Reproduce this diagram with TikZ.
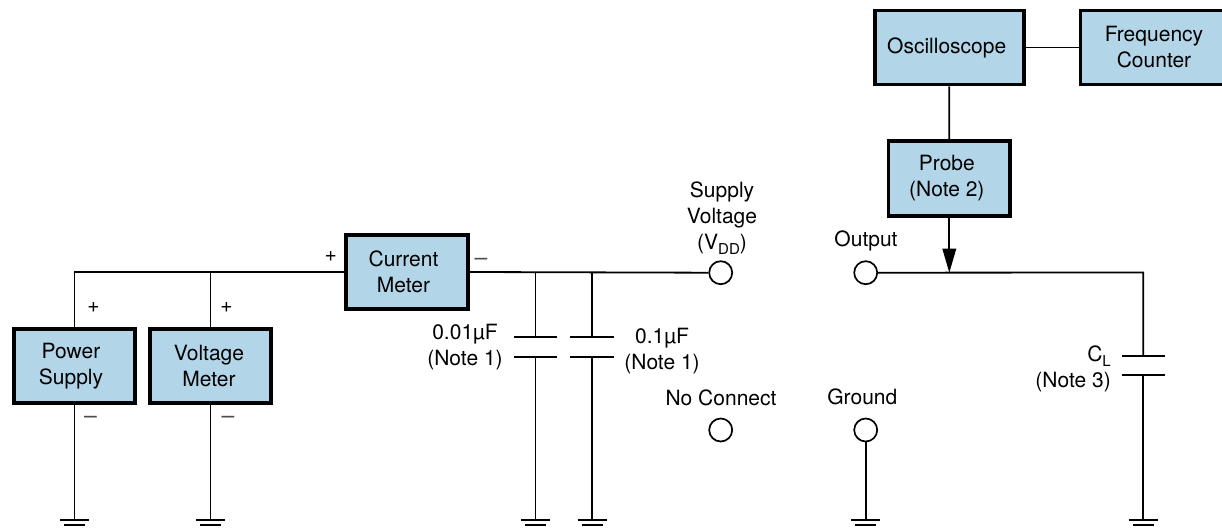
\documentclass[tikz,border=0pt]{standalone}
\usepackage{fontspec}
\setmainfont{TeX Gyre Heros}
\usetikzlibrary{arrows.meta}
\definecolor{boxblue}{HTML}{B2D5E8}
\newcommand{\ddsub}[1]{\raisebox{-0.22em}{\fontsize{15}{15}\selectfont #1}}
\newcommand{\lft}[2]{\hspace*{-#1pt}#2}
\tikzset{
  x=1pt,y=-1pt,
  wire/.style={line width=1.8pt,black},
  blockbox/.style={draw=black,fill=boxblue,line width=3.8pt,inner sep=0pt,align=center,font=\fontsize{21}{26}\selectfont},
  term/.style={circle,draw=black,fill=white,line width=1.7pt,minimum size=23pt,inner sep=0pt},
  lbl/.style={inner sep=0pt,align=center,font=\fontsize{21}{26}\selectfont},
  sign/.style={inner sep=0pt,font=\fontsize{21}{21}\selectfont},
  minus/.style={inner sep=0pt,font=\fontsize{23}{23}\selectfont,text=black!70},
  gndpic/.pic={
    \draw[line width=1.8pt] (-14.5,0) -- (14.5,0);
    \draw[line width=1.8pt] (-10.5,4.8) -- (10.5,4.8);
    \draw[line width=1.8pt] (-5,9.5) -- (5,9.5);
  },
  plate/.style={line width=1.8pt}
}
\begin{document}
\begin{tikzpicture}
\useasboundingbox (0,0) rectangle (1222,529);
% blocks
\node[blockbox,minimum width=121pt,minimum height=74pt] (ps) at (74.5,366) {\lft{7}{Power}\\\lft{7}{Supply}};
\node[blockbox,minimum width=121pt,minimum height=74pt] (vm) at (210.5,366) {\lft{3}{Voltage}\\\lft{3}{Meter}};
\node[blockbox,minimum width=122pt,minimum height=74pt] (cm) at (407,272) {\lft{7}{Current}\\\lft{7}{Meter}};
\node[blockbox,minimum width=149pt,minimum height=74pt] (osc) at (949.2,47.5) {\lft{5}{Oscilloscope}};
\node[blockbox,minimum width=147pt,minimum height=74pt] (fc) at (1154,47.5) {Frequency\\Counter};
\node[blockbox,minimum width=121.5pt,minimum height=74.5pt] (pr) at (949.3,178.5) {\lft{5}{Probe}\\\lft{5}{(Note 2)}};
% terminals
\node[term] (vdd) at (720.7,272.7) {};
\node[term] (nc) at (720.7,430) {};
\node[term] (out) at (865.7,272.7) {};
\node[term] (g) at (865.7,430) {};
% junctions and caps
\coordinate (top1) at (ps.north |- cm.west);
\coordinate (top2) at (vm.north |- cm.west);
\coordinate (j1) at (535.5,272.5);
\coordinate (j2) at (592,272.5);
\coordinate (c1a) at (535.5,337.3);
\coordinate (c1b) at (535.5,356.7);
\coordinate (c2a) at (592,337.3);
\coordinate (c2b) at (592,356.7);
\coordinate (tap) at (pr.south |- out.east);
\coordinate (corner) at (1143.3,272.5);
\coordinate (c3a) at (1143.3,356);
\coordinate (c3b) at (1143.3,375);
\coordinate (g1) at (74.5,520);
\coordinate (g2) at (210.5,520);
\coordinate (g3) at (535.5,520);
\coordinate (g4) at (592,520);
\coordinate (g5) at (865.7,520);
\coordinate (g6) at (1143.3,520);
% wires
\draw[wire] (ps.north) -- (top1) -- (cm.west);
\draw[wire] (vm.north) -- (top2);
\draw[wire] (ps.south) -- (g1);
\draw[wire] (vm.south) -- (g2);
\draw[wire] (cm.east) -- (vdd.west);
\draw[wire] (j1) -- (c1a);
\draw[wire] (j2) -- (c2a);
\draw[wire] (c1b) -- (g3);
\draw[wire] (c2b) -- (g4);
\draw[wire] (g.south) -- (g5);
\draw[wire] (out.east) -- (corner) -- (c3a);
\draw[wire] (c3b) -- (g6);
\draw[wire] (osc.east) -- (fc.west);
\draw[wire] (osc.south) -- (pr.north);
\draw[wire,-{Triangle[length=24pt,width=13.5pt,fill=black]}] (pr.south) -- (tap);
% plates
\draw[plate] ([xshift=-21.7pt]c1a) -- ([xshift=21.7pt]c1a);
\draw[plate] ([xshift=-21.7pt]c1b) -- ([xshift=21.7pt]c1b);
\draw[plate] ([xshift=-21.7pt]c2a) -- ([xshift=21.7pt]c2a);
\draw[plate] ([xshift=-21.7pt]c2b) -- ([xshift=21.7pt]c2b);
\draw[plate] ([xshift=-21.7pt]c3a) -- ([xshift=21.7pt]c3a);
\draw[plate] ([xshift=-21.7pt]c3b) -- ([xshift=21.7pt]c3b);
% grounds
\foreach \g in {g1,g2,g3,g4,g5,g6} \path (\g) pic {gndpic};
% signs
\node[sign] (s1) at (93.5,308) {+};
\node[sign] (s2) at (226.5,308) {+};
\node[sign] (s3) at (330.7,257) {+};
\node[minus] (m1) at (90.5,420) {–};
\node[minus] (m2) at (228,420) {–};
\node[minus] (m3) at (481,262) {–};
% labels
\node[lbl] (l1) at (722,218) {Supply\\Voltage\\(V\ddsub{DD})};
\node[lbl] (l2) at (465,347.5) {0.01µF\\(Note 1)};
\node[lbl] (l3) at (662,351) {0.1µF\\(Note 1)};
\node[lbl] (l4) at (721,398) {No Connect};
\node[lbl] (l5) at (862.3,397) {Ground};
\node[lbl] (l6) at (866,241) {Output};
\node[lbl,align=right,anchor=east] (l7) at (1111,369) {C\ddsub{L}\\(Note 3)};
\end{tikzpicture}
\end{document}
